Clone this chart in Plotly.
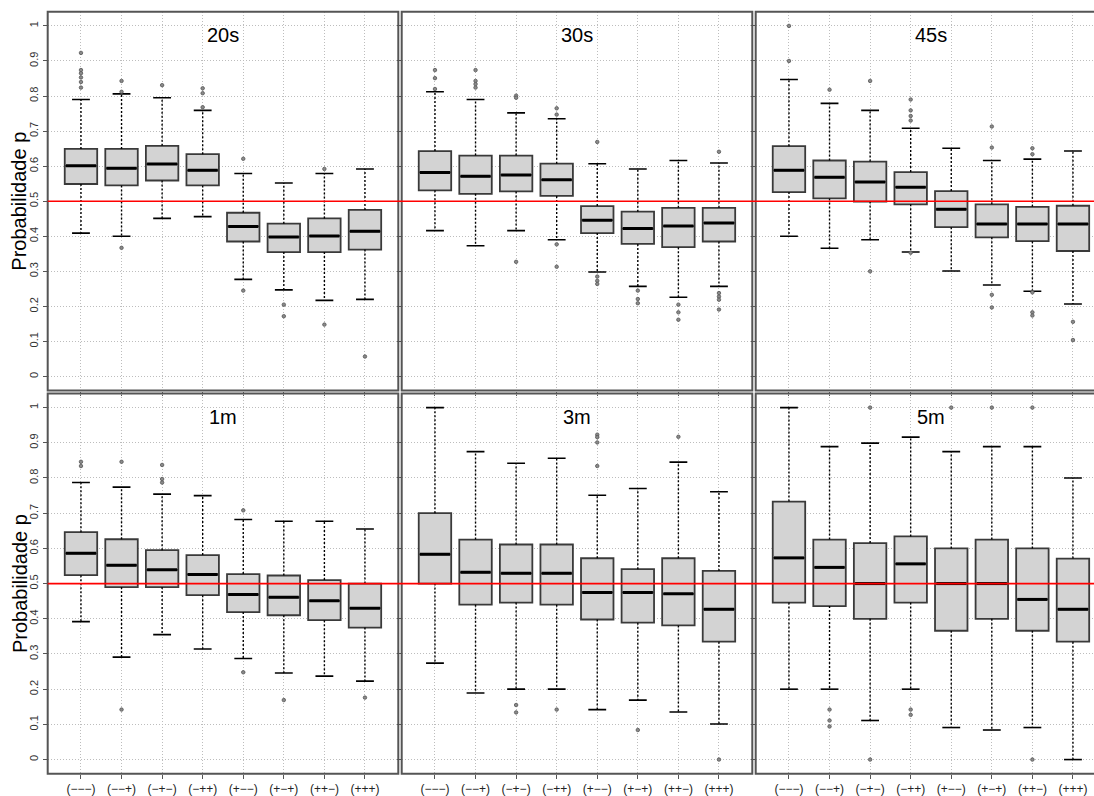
import plotly.graph_objects as go

# ---- data -------------------------------------------------------------
CATEGORIES = ["(−−−)", "(−−+)", "(−+−)", "(−++)", "(+−−)", "(+−+)", "(++−)", "(+++)"]
PANELS = ["20s", "30s", "45s", "1m", "3m", "5m"]

UPPER = {
    "20s": [0.790, 0.806, 0.795, 0.759, 0.579, 0.552, 0.579, 0.592],
    "30s": [0.812, 0.790, 0.752, 0.735, 0.607, 0.592, 0.616, 0.609],
    "45s": [0.847, 0.779, 0.759, 0.708, 0.651, 0.616, 0.620, 0.643],
    "1m":  [0.787, 0.774, 0.754, 0.750, 0.682, 0.677, 0.677, 0.655],
    "3m":  [1.000, 0.875, 0.842, 0.856, 0.751, 0.770, 0.845, 0.761],
    "5m":  [1.000, 0.889, 0.899, 0.916, 0.875, 0.889, 0.889, 0.800],
}
Q3 = {
    "20s": [0.649, 0.649, 0.658, 0.634, 0.467, 0.436, 0.451, 0.475],
    "30s": [0.643, 0.630, 0.630, 0.607, 0.486, 0.470, 0.481, 0.481],
    "45s": [0.657, 0.616, 0.613, 0.583, 0.529, 0.491, 0.484, 0.487],
    "1m":  [0.646, 0.626, 0.595, 0.581, 0.527, 0.523, 0.510, 0.500],
    "3m":  [0.700, 0.625, 0.611, 0.611, 0.572, 0.541, 0.572, 0.536],
    "5m":  [0.733, 0.625, 0.615, 0.634, 0.600, 0.625, 0.600, 0.571],
}
MEDIAN = {
    "20s": [0.601, 0.594, 0.606, 0.588, 0.428, 0.398, 0.401, 0.414],
    "30s": [0.582, 0.571, 0.575, 0.561, 0.446, 0.422, 0.429, 0.438],
    "45s": [0.588, 0.568, 0.555, 0.540, 0.477, 0.435, 0.435, 0.435],
    "1m":  [0.586, 0.552, 0.539, 0.526, 0.469, 0.461, 0.451, 0.430],
    "3m":  [0.583, 0.532, 0.529, 0.529, 0.475, 0.475, 0.471, 0.427],
    "5m":  [0.573, 0.546, 0.500, 0.556, 0.500, 0.500, 0.455, 0.427],
}
Q1 = {
    "20s": [0.549, 0.545, 0.559, 0.545, 0.385, 0.355, 0.355, 0.362],
    "30s": [0.531, 0.521, 0.528, 0.515, 0.409, 0.378, 0.369, 0.385],
    "45s": [0.526, 0.508, 0.499, 0.491, 0.426, 0.397, 0.386, 0.358],
    "1m":  [0.524, 0.490, 0.490, 0.467, 0.419, 0.410, 0.396, 0.375],
    "3m":  [0.500, 0.440, 0.446, 0.440, 0.398, 0.389, 0.381, 0.335],
    "5m":  [0.446, 0.436, 0.400, 0.446, 0.366, 0.400, 0.366, 0.335],
}
LOWER = {
    "20s": [0.409, 0.400, 0.451, 0.456, 0.277, 0.247, 0.217, 0.220],
    "30s": [0.416, 0.373, 0.416, 0.390, 0.298, 0.257, 0.226, 0.257],
    "45s": [0.400, 0.366, 0.390, 0.355, 0.301, 0.261, 0.243, 0.207],
    "1m":  [0.392, 0.291, 0.355, 0.314, 0.287, 0.246, 0.237, 0.223],
    "3m":  [0.274, 0.189, 0.200, 0.200, 0.142, 0.169, 0.135, 0.101],
    "5m":  [0.200, 0.200, 0.111, 0.200, 0.091, 0.084, 0.091, 0.000],
}
OUTLIERS = {
    "20s": [[0.923, 0.874, 0.865, 0.853, 0.840, 0.824], [0.843, 0.812, 0.367], [0.831],
            [0.822, 0.808, 0.768], [0.621, 0.245], [0.205, 0.172], [0.592, 0.148], [0.057]],
    "30s": [[0.874, 0.851, 0.820], [0.874, 0.843, 0.834, 0.824], [0.801, 0.795, 0.327],
            [0.765, 0.747, 0.377, 0.313], [0.669, 0.285, 0.273, 0.264], [0.245, 0.221, 0.209],
            [0.205, 0.183, 0.162], [0.641, 0.238, 0.228, 0.219, 0.191]],
    "45s": [[1.000, 0.900], [0.818], [0.843, 0.300], [0.790, 0.759, 0.743, 0.730, 0.353], [],
            [0.713, 0.653, 0.233, 0.197], [0.651, 0.634, 0.240, 0.183, 0.174], [0.156, 0.104]],
    "1m":  [[0.846, 0.834], [0.846, 0.142], [0.837, 0.797, 0.787], [], [0.708, 0.248],
            [0.169], [], [0.176]],
    "3m":  [[], [], [0.155, 0.134], [0.142], [0.923, 0.916, 0.901, 0.834], [0.084],
            [0.917], [0.000]],
    "5m":  [[], [0.142, 0.111, 0.094], [1.000, 0.000], [0.142, 0.127], [1.000], [1.000],
            [1.000, 0.000], []],
}
Y_TICKS = [0, 0.1, 0.2, 0.3, 0.4, 0.5, 0.6, 0.7, 0.8, 0.9, 1]
Y_TICK_TEXT = ["0", "0.1", "0.2", "0.3", "0.4", "0.5", "0.6", "0.7", "0.8", "0.9", "1"]
REFERENCE_P = 0.5

# ---- layout geometry (pixels) ---------------------------------------
W, H = 1094, 796
PX_PER_UNIT = 40.57
X0 = 0.18
COLS = [(47.7, 398.3), (401.7, 752.3), (755.7, 1106.3)]
ROWS = [(12.0, 395.0), (398.0, 782.5)]
Y_RANGE = [-0.04, 1.04]
BOX_W = 0.8
CAP_W = 0.44

FONT = "Liberation Sans, Arial, sans-serif"
BORDER = "#555555"
GRID = "#bdbdbd"
GRID_DASH = "1px,2px"

fig = go.Figure()
layout = dict(
    width=W, height=H, margin=dict(l=0, r=0, t=0, b=0),
    paper_bgcolor="white", plot_bgcolor="white", showlegend=False,
    font=dict(family=FONT, color="#222"),
)
shapes = []
annotations = []

xs = list(range(1, len(CATEGORIES) + 1))

for k, name in enumerate(PANELS):
    r, c = divmod(k, 3)
    n = k + 1
    xa = "x" if n == 1 else f"x{n}"
    ya = "y" if n == 1 else f"y{n}"
    xl, xr = COLS[c]
    yt, yb = ROWS[r]
    xr_clip = min(xr, W)
    x_end = X0 + (xr_clip - xl) / PX_PER_UNIT

    layout["xaxis" if n == 1 else f"xaxis{n}"] = dict(
        domain=[xl / W, xr_clip / W], range=[X0, x_end], anchor=ya,
        tickvals=xs, ticktext=CATEGORIES, showticklabels=(r == 1),
        tickfont=dict(size=12, color="#222"),
        ticks="outside", ticklen=4, tickcolor=BORDER, tickwidth=1,
        showgrid=True, gridcolor=GRID, griddash=GRID_DASH, gridwidth=1,
        zeroline=False, showline=False, fixedrange=True,
    )
    layout["yaxis" if n == 1 else f"yaxis{n}"] = dict(
        domain=[1 - yb / H, 1 - yt / H], range=Y_RANGE, anchor=xa,
        tickvals=Y_TICKS, ticktext=Y_TICK_TEXT, showticklabels=(c == 0),
        tickangle=-90, tickfont=dict(size=11, color="#333"),
        ticks="outside", ticklen=4, tickcolor=BORDER, tickwidth=1,
        showgrid=True, gridcolor=GRID, griddash=GRID_DASH, gridwidth=1,
        zeroline=False, showline=False, fixedrange=True,
    )

    up, q3, med, q1, lo = UPPER[name], Q3[name], MEDIAN[name], Q1[name], LOWER[name]

    # dashed whiskers
    wx, wy = [], []
    for x, a, b, cc, d in zip(xs, up, q3, q1, lo):
        wx += [x, x, None, x, x, None]
        wy += [b, a, None, cc, d, None]
    fig.add_trace(go.Scatter(x=wx, y=wy, xaxis=xa, yaxis=ya, mode="lines",
                             line=dict(color="black", width=1.4, dash="2px,2px"),
                             hoverinfo="skip"))

    # boxes
    fig.add_trace(go.Box(x=xs, q1=q1, median=med, q3=q3, lowerfence=q1, upperfence=q3,
                         xaxis=xa, yaxis=ya, width=BOX_W, whiskerwidth=0,
                         fillcolor="#d3d3d3", line=dict(color="#3a3a3a", width=1.8),
                         boxpoints=False, name=name))

    # thick medians
    mx, my = [], []
    for x, m in zip(xs, med):
        mx += [x - BOX_W / 2 + 0.03, x + BOX_W / 2 - 0.03, None]
        my += [m, m, None]
    fig.add_trace(go.Scatter(x=mx, y=my, xaxis=xa, yaxis=ya, mode="lines",
                             line=dict(color="black", width=3), hoverinfo="skip"))

    # whisker caps
    cx, cy = [], []
    for x, a, d in zip(xs, up, lo):
        cx += [x - CAP_W / 2, x + CAP_W / 2, None, x - CAP_W / 2, x + CAP_W / 2, None]
        cy += [a, a, None, d, d, None]
    fig.add_trace(go.Scatter(x=cx, y=cy, xaxis=xa, yaxis=ya, mode="lines",
                             line=dict(color="black", width=1.6), hoverinfo="skip"))

    # outliers
    ox, oy = [], []
    for x, pts in zip(xs, OUTLIERS[name]):
        ox += [x] * len(pts)
        oy += pts
    fig.add_trace(go.Scatter(x=ox, y=oy, xaxis=xa, yaxis=ya, mode="markers",
                             marker=dict(symbol="circle", size=3.5, color="#8a8a8a",
                                         line=dict(width=0.8, color="#555555")),
                             hoverinfo="skip"))

    # panel frame
    shapes.append(dict(type="rect", xref="paper", yref="paper",
                       x0=xl / W, x1=xr / W, y0=1 - yb / H, y1=1 - yt / H,
                       line=dict(color=BORDER, width=2), layer="above"))

    # panel title
    annotations.append(dict(text=name, xref="paper", yref="paper",
                            x=(xl + xr) / 2 / W, y=1 - (yt + 23.5) / H,
                            xanchor="center", yanchor="middle", showarrow=False,
                            font=dict(size=20, color="black", family=FONT)))

# reference line p = 0.5 across each row
for r, ya in enumerate(["y", "y4"]):
    shapes.append(dict(type="line", xref="paper", yref=ya,
                       x0=COLS[0][0] / W, x1=1, y0=REFERENCE_P, y1=REFERENCE_P,
                       line=dict(color="red", width=1.6), layer="above"))
    yt, yb = ROWS[r]
    annotations.append(dict(text="Probabilidade p", xref="paper", yref="paper",
                            x=19.5 / W, y=1 - (yt + yb) / 2 / H, textangle=-90,
                            xanchor="center", yanchor="middle", showarrow=False,
                            font=dict(size=20, color="black", family=FONT)))

layout["shapes"] = shapes
layout["annotations"] = annotations
fig.update_layout(**layout)
fig.write_html("out.html")
